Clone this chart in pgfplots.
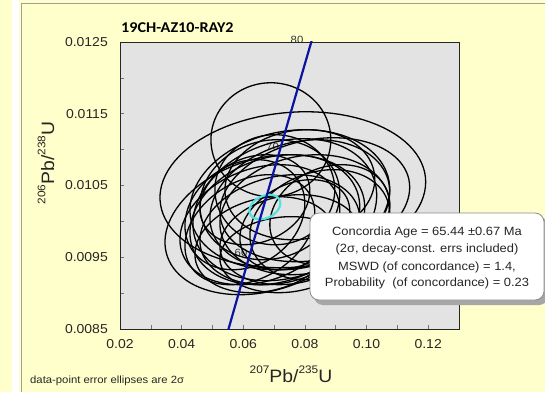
\documentclass[border=0pt]{standalone}
\usepackage{fontspec}
\setmainfont{Liberation Sans}[FakeStretch=1.08]
\newfontfamily\titlefont{Carlito}[FakeStretch=1.08]
\usepackage{pgfplots}
\pgfplotsset{compat=1.18}
\usepackage{pgfplotstable}

\definecolor{panelyellow}{RGB}{255,255,204}
\definecolor{plotgrey}{RGB}{227,227,227}
\definecolor{concblue}{RGB}{10,20,160}
\definecolor{cyanell}{RGB}{80,225,225}

% error ellipses: centre, 2-sigma half widths, correlation
\pgfplotstableread{
cx cy sx sy rho
0.06895 0.011138 0.01945 0.000794 0.0
0.07608 0.010441 0.04311 0.001087 0.1
0.06700 0.009954 0.03241 0.000976 0.25
0.07511 0.010302 0.03241 0.000976 0.15
0.07348 0.010163 0.02982 0.000990 0.2
0.07835 0.010232 0.02917 0.000906 0.2
0.07024 0.010023 0.02755 0.000906 0.2
0.06538 0.009954 0.02593 0.000836 0.25
0.07997 0.010093 0.02755 0.000836 0.15
0.07186 0.009884 0.02593 0.000767 0.2
0.06862 0.010302 0.02269 0.000836 0.1
0.08321 0.010302 0.03079 0.000864 0.2
0.06214 0.009884 0.02107 0.000767 0.3
0.07511 0.009745 0.02269 0.000627 0.15
0.07835 0.010511 0.02431 0.000767 0.1
0.06700 0.009675 0.02269 0.000669 0.2
0.08483 0.009954 0.02269 0.000767 0.2
0.07024 0.010441 0.01945 0.000767 0.0
0.06052 0.010093 0.01945 0.000767 0.2
0.07673 0.009954 0.01783 0.000627 0.3
0.08807 0.010093 0.01945 0.000697 0.2
0.07348 0.009536 0.02107 0.000530 0.1
0.06376 0.010302 0.01783 0.000627 0.2
}\ellipses

% concordia age ellipse
\pgfplotstableread{
cx cy sx sy rho
0.0670 0.01020 0.0050 0.00017 0.3
}\ageellipse

% concordia curve (207Pb/235U, 206Pb/238U) for 54..82 Ma
\pgfplotstableread{
x y
0.054621 0.0084119
0.058784 0.0090379
0.062963 0.0096642
0.067159 0.0102908
0.071371 0.0109179
0.075600 0.0115454
0.079846 0.0121733
0.084108 0.0128015
}\concordia

\newcommand{\drawellipse}[3]{%
  \pgfplotstablegetelem{#2}{cx}\of#1\let\ecx\pgfplotsretval
  \pgfplotstablegetelem{#2}{cy}\of#1\let\ecy\pgfplotsretval
  \pgfplotstablegetelem{#2}{sx}\of#1\let\esx\pgfplotsretval
  \pgfplotstablegetelem{#2}{sy}\of#1\let\esy\pgfplotsretval
  \pgfplotstablegetelem{#2}{rho}\of#1\let\erho\pgfplotsretval
  \edef\doplot{\noexpand\addplot[#3, domain=0:360, samples=100]
    ({\ecx+\esx*cos(x)},{\ecy+\esy*(\erho*cos(x)+sqrt(1-\erho*\erho)*sin(x))});}%
  \doplot
}

\begin{document}
\begin{tikzpicture}[x=1bp,y=1bp]
\useasboundingbox (0,0) rectangle (545,392);
\fill[panelyellow] (0,0) rectangle (545,392);
\fill[white] (12,0) rectangle (19,392);
\draw[gray!75, line width=0.9bp] (21,0) -- (21,388.5) -- (545,388.5);
\fill[plotgrey] (120,63) rectangle (459,350);

% age labels on the concordia
\begin{scope}[font=\fontsize{10.5}{12}\selectfont, text=black!80]
\node[anchor=south, inner sep=0pt] at (297,348) {80};
\node at (272.5,245) {70};
\node at (241,139) {60};
\end{scope}

\begin{axis}[
  at={(120bp,63bp)}, anchor=south west,
  scale only axis, width=339bp, height=287bp,
  xmin=0.02, xmax=0.13, ymin=0.0085, ymax=0.0125,
  clip mode=individual,
  scaled ticks=false,
  axis line style={black!85, line width=0.8bp},
  tick align=inside,
  xtick pos=bottom, ytick pos=left,
  major tick length=4bp, minor tick length=4bp,
  tick style={black!55, line width=0.6bp},
  xtick={0.02,0.04,0.06,0.08,0.10,0.12},
  xticklabels={0.02,0.04,0.06,0.08,0.10,0.12},
  minor xtick={0.03,0.05,0.07,0.09,0.11},
  ytick={0.0085,0.0095,0.0105,0.0115,0.0125},
  yticklabels={0.0085,0.0095,0.0105,0.0115,0.0125},
  minor ytick={0.009,0.010,0.011,0.012},
  tick label style={font=\fontsize{13}{15}\selectfont, text=black!85},
  xticklabel style={anchor=north, inner sep=0pt, yshift=-10bp},
  yticklabel style={anchor=east, inner sep=0pt, xshift=-12bp},
]
\pgfplotsinvokeforeach{0,...,22}{\drawellipse{\ellipses}{#1}{black, line width=1.3bp}}
\drawellipse{\ageellipse}{0}{cyanell, line width=2.2bp}
\addplot[concblue, line width=2.2bp] table[x=x, y=y] {\concordia};
\end{axis}

% title, axis labels, footnote
\node[anchor=west, inner sep=0pt] at (121,364) {\titlefont\bfseries\fontsize{15}{17}\selectfont 19CH-AZ10-RAY2};
\node[rotate=90, text=black!85] at (46,229) {\fontsize{18}{20}\selectfont\raisebox{0.5em}{\fontsize{11}{12}\selectfont 206}Pb/\raisebox{0.5em}{\fontsize{11}{12}\selectfont 238}U};
\node[text=black!85] at (291,18) {\fontsize{18}{20}\selectfont\raisebox{0.5em}{\fontsize{11}{12}\selectfont 207}Pb/\raisebox{0.5em}{\fontsize{11}{12}\selectfont 235}U};
\node[anchor=west, inner sep=0pt, text=black!85] at (30,11) {\fontsize{10.5}{12}\selectfont data-point error ellipses are 2σ};

% result box
\fill[black!35, rounded corners=9bp] (314,87) rectangle (548,175);
\draw[black!45, fill=white, rounded corners=9bp, line width=0.8bp] (310,92) rectangle (544,179);
\begin{scope}[font=\fontsize{12}{14}\selectfont, text=black!85]
\node at (427,160) {Concordia Age = 65.44 ±0.67 Ma};
\node at (427,142.5) {(2σ, decay-const. errs included)};
\node at (427,125) {MSWD (of concordance) = 1.4,};
\node at (427,108.5) {Probability\ \ (of concordance) = 0.23};
\end{scope}
\end{tikzpicture}
\end{document}
